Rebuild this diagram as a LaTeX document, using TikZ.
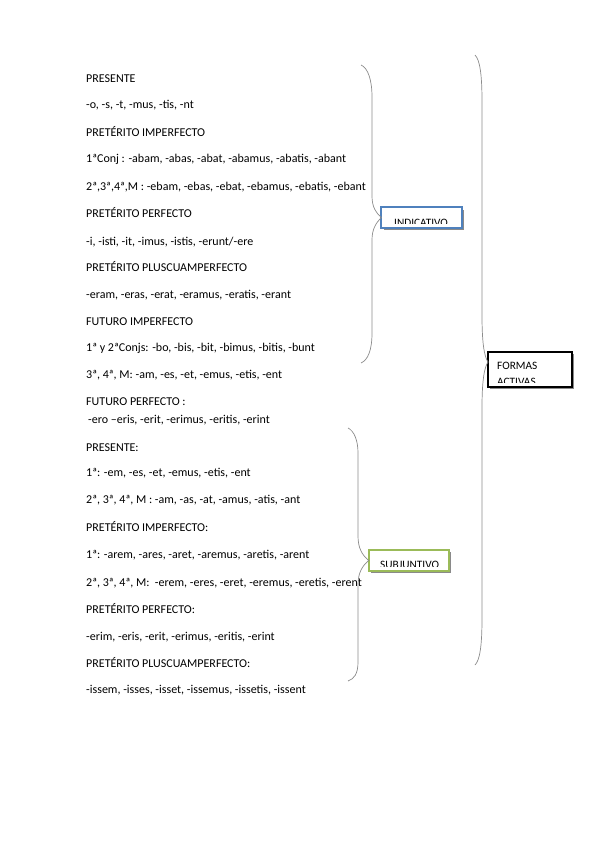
\documentclass[tikz,border=0pt]{standalone}
\usepackage{fontspec}
\setmainfont{Carlito}
\usetikzlibrary{shadows}
\definecolor{bracegray}{HTML}{8C8C8C}
\definecolor{indblue}{HTML}{4F81BD}
\definecolor{subgreen}{HTML}{9BBB59}
\definecolor{shadowgray}{HTML}{8A8A8A}
\begin{document}
\begin{tikzpicture}[x=1pt,y=-1pt,
  tx/.style={anchor=base west, inner sep=0pt, font=\fontsize{12}{14}\selectfont},
  boxtx/.style={anchor=base west, inner sep=0pt, font=\fontsize{11.3}{13}\selectfont},
  boxbase/.style={fill=white, inner sep=0pt, drop shadow={shadow xshift=2pt, shadow yshift=-2pt, fill=shadowgray, opacity=1}},
  bracestyle/.style={draw=bracegray, line width=0.7pt}]
\useasboundingbox (0,0) rectangle (599,848);
\fill[white] (0,0) rectangle (599,848);

% ---- text lines ----
\node[tx] (t1)  at (86,83)  {PRESENTE};
\node[tx] (t2)  at (86,109) {-o, -s, -t, -mus, -tis, -nt};
\node[tx] (t3)  at (86,136) {PRETÉRITO IMPERFECTO};
\node[tx] (t4)  at (86,162) {1ªConj : -abam, -abas, -abat, -abamus, -abatis, -abant};
\node[tx] (t5)  at (86,190) {2ª,3ª,4ª,M : -ebam, -ebas, -ebat, -ebamus, -ebatis, -ebant};
\node[tx] (t6)  at (86,217) {PRETÉRITO PERFECTO};
\node[tx] (t7)  at (86,245) {-i, -isti, -it, -imus, -istis, -erunt/-ere};
\node[tx] (t8)  at (86,271) {PRETÉRITO PLUSCUAMPERFECTO};
\node[tx] (t9)  at (86,298) {-eram, -eras, -erat, -eramus, -eratis, -erant};
\node[tx] (t10) at (86,325) {FUTURO IMPERFECTO};
\node[tx] (t11) at (86,351) {1ª y 2ªConjs: -bo, -bis, -bit, -bimus, -bitis, -bunt};
\node[tx] (t12) at (86,378) {3ª, 4ª, M: -am, -es, -et, -emus, -etis, -ent};
\node[tx] (t13) at (86,405) {FUTURO PERFECTO :};
\node[tx] (t14) at (88,423) {-ero –eris, -erit, -erimus, -eritis, -erint};
\node[tx] (t15) at (86,451) {PRESENTE:};
\node[tx] (t16) at (86,476) {1ª: -em, -es, -et, -emus, -etis, -ent};
\node[tx] (t17) at (86,503) {2ª, 3ª, 4ª, M : -am, -as, -at, -amus, -atis, -ant};
\node[tx] (t18) at (86,531) {PRETÉRITO IMPERFECTO:};
\node[tx] (t19) at (86,558) {1ª: -arem, -ares, -aret, -aremus, -aretis, -arent};
\node[tx] (t20) at (86,586) {2ª, 3ª, 4ª, M:\ \ -erem, -eres, -eret, -eremus, -eretis, -erent};
\node[tx] (t21) at (86,613) {PRETÉRITO PERFECTO:};
\node[tx] (t22) at (86,640) {-erim, -eris, -erit, -erimus, -eritis, -erint};
\node[tx] (t23) at (86,667) {PRETÉRITO PLUSCUAMPERFECTO:};
\node[tx] (t24) at (86,693) {-issem, -isses, -isset, -issemus, -issetis, -issent};

% ---- boxes ----
\node[boxbase, minimum width=80pt, minimum height=20pt] (ind) at (421.5,217.5) {};
\begin{scope}
  \clip (ind.north west) rectangle (462,223.5);
  \node[boxtx] (indtx) at (394,226) {INDICATIVO};
\end{scope}
\draw[indblue, line width=2pt] (ind.south west) rectangle (ind.north east);

\node[boxbase, minimum width=80pt, minimum height=21pt] (sub) at (409,560.5) {};
\begin{scope}
  \clip (sub.north west) rectangle (449,566);
  \node[boxtx] (subtx) at (380,568.5) {SUBJUNTIVO};
\end{scope}
\draw[subgreen, line width=2.5pt] (sub.south west) rectangle (sub.north east);

\node[boxbase, minimum width=84pt, minimum height=35pt] (fa) at (530,369.5) {};
\begin{scope}
  \clip (fa.north west) rectangle (572,382.5);
  \node[boxtx] (fatx1) at (497,369) {FORMAS};
  \node[boxtx] (fatx2) at (497,385.5) {ACTIVAS};
\end{scope}
\draw[black, line width=2.5pt] (fa.south west) rectangle (fa.north east);

% ---- braces ----
\coordinate (indTop) at (361,65);
\coordinate (indBot) at (361,363);
\draw[bracestyle] (indTop) .. controls (368,68) and (372,80) .. (372,97)
  -- (372,196) .. controls (372,207) and (376,213) .. (ind.west)
  .. controls (376,223) and (372,229) .. (372,240)
  -- (372,333) .. controls (372,350) and (368,360) .. (indBot);

\coordinate (subTop) at (348,428);
\coordinate (subBot) at (348,681);
\draw[bracestyle] (subTop) .. controls (354,431) and (358,440) .. (358,453)
  -- (358,536) .. controls (358,548) and (362,555) .. (sub.west)
  .. controls (362,566) and (358,573) .. (358,585)
  -- (358,662) .. controls (358,674) and (354,679) .. (subBot);

\coordinate (faTop) at (475,55);
\coordinate (faBot) at (475,665);
\coordinate (faTip) at (488,362);
\draw[bracestyle] (faTop) .. controls (480,60) and (482,75) .. (482,102)
  -- (482,315) .. controls (482,342) and (484,356) .. (faTip)
  .. controls (484,368) and (482,382) .. (482,408)
  -- (482,618) .. controls (482,645) and (480,660) .. (faBot);
\end{tikzpicture}
\end{document}
